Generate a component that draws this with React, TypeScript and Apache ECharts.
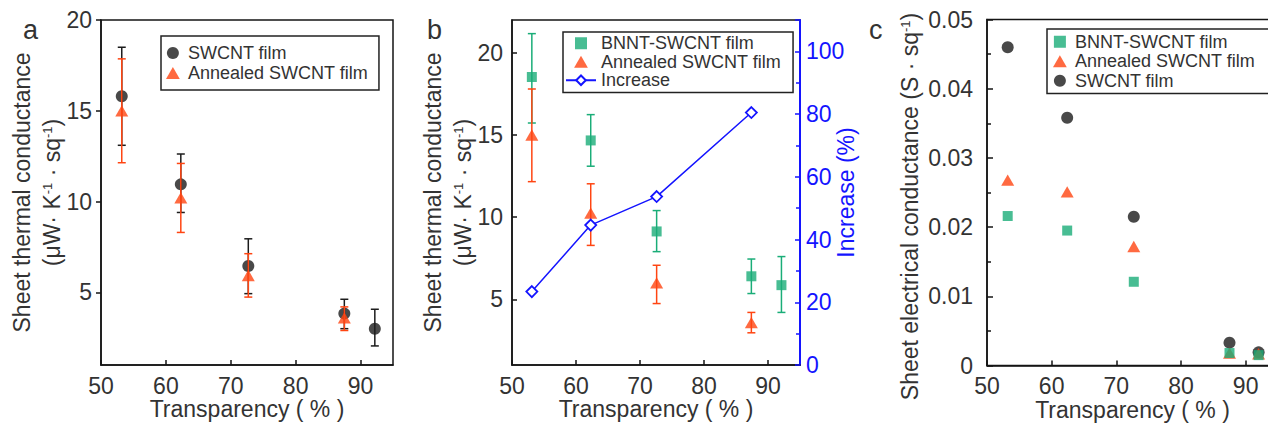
import React, { useEffect, useRef } from "react";
import * as echarts from "echarts";

// ---------- Data ----------
// Panel a
const transA = [53.2, 62.3, 72.7, 87.5, 92.2];
const swcntA = [15.8, 10.95, 6.45, 3.83, 3.0];
const swcntALo = [13.1, 9.4, 4.93, 3.0, 2.05];
const swcntAHi = [18.5, 12.62, 7.95, 4.62, 4.07];
const transAnnA = [53.2, 62.3, 72.7, 87.5];
const annealedA = [15.0, 10.2, 5.93, 3.6];
const annealedALo = [12.14, 8.3, 4.74, 2.9];
const annealedAHi = [17.86, 12.1, 7.13, 4.2];

// Panel b
const transB = [53.1, 62.3, 72.6, 87.4, 92.1];
const bnntB = [18.53, 14.67, 9.13, 6.4, 5.86];
const bnntBLo = [15.73, 13.1, 7.9, 5.35, 4.2];
const bnntBHi = [21.17, 16.24, 10.4, 7.45, 7.6];
const transAnnB = [53.1, 62.3, 72.6, 87.4];
const annealedB = [15.0, 10.24, 6.0, 3.58];
const annealedBLo = [12.16, 8.28, 4.74, 2.96];
const annealedBHi = [17.8, 12.03, 7.07, 4.2];
const increaseB = [23.4, 44.6, 53.7, 80.5];

// Panel c
const transC = [53.2, 62.4, 72.7, 87.5, 92.0];
const swcntC = [0.046, 0.0358, 0.0215, 0.0033, 0.0019];
const annealedC = [0.0268, 0.0251, 0.0172, 0.0018, 0.0017];
const bnntC = [0.0216, 0.0195, 0.0121, 0.0018, 0.0015];

// Tick labels
const thermalTicks = [5, 10, 15, 20];

// ---------- Styles ----------
const FONT = "'Liberation Sans', Arial, sans-serif";
const TXT = "#333333";
const AX = "#151515";
const BLACK = "#1c1c1c";
const RED = "#ff4512";
const GREEN = "#1aad78";
const BLUE = "#1414ff";
const TRI = "path://M5,0 L10,8.7 L0,8.7 Z";
const SQ = "path://M0,0 H10 V10 H0 Z";
const LBL = 23;
const NAME = 23;

const pairs = (xs: number[], ys: number[]) => xs.map((x, i) => [x, ys[i]]);

function errSeries(xs: number[], lo: number[], hi: number[], color: string, gi: number, z: number) {
  return {
    type: "custom",
    xAxisIndex: gi,
    yAxisIndex: gi === 2 ? 3 : gi,
    z,
    silent: true,
    data: xs.map((x, i) => [x, lo[i], hi[i]]),
    encode: { x: 0, y: [1, 2] },
    renderItem: (_p: any, api: any) => {
      const x = api.value(0);
      const a = api.coord([x, api.value(1)]);
      const b = api.coord([x, api.value(2)]);
      const w = 4;
      const st = { stroke: color, lineWidth: 1.5 };
      return {
        type: "group",
        children: [
          { type: "line", shape: { x1: a[0], y1: a[1], x2: b[0], y2: b[1] }, style: st },
          { type: "line", shape: { x1: a[0] - w, y1: a[1], x2: a[0] + w, y2: a[1] }, style: st },
          { type: "line", shape: { x1: b[0] - w, y1: b[1], x2: b[0] + w, y2: b[1] }, style: st },
        ],
      };
    },
  };
}

function xAxis(gi: number) {
  return {
    gridIndex: gi,
    type: "value",
    min: 50,
    max: 95,
    interval: 10,
    axisLine: { onZero: false, lineStyle: { color: AX, width: 1.5 } },
    axisTick: { inside: true, length: 5, lineStyle: { color: AX, width: 1.5 } },
    axisLabel: { fontSize: LBL, color: TXT, margin: 9, fontFamily: FONT, showMaxLabel: false },
    splitLine: { show: false },
    name: "Transparency ( % )",
    nameLocation: "middle",
    nameGap: 30,
    nameMoveOverlap: false,
    nameTextStyle: { fontSize: NAME, color: TXT, fontFamily: FONT, lineHeight: 28 },
  };
}

const supRich = {
  sup: { fontSize: 13, color: TXT, fontFamily: FONT, padding: [0, 0, 10, 0] },
};

function thermalY(gi: number, min: number, max: number, inside: boolean) {
  return {
    gridIndex: gi,
    type: "value",
    min,
    max,
    axisLine: { onZero: false, lineStyle: { color: AX, width: 1.5 } },
    axisTick: { inside, length: 5, customValues: thermalTicks, lineStyle: { color: AX, width: 1.5 } },
    axisLabel: { fontSize: LBL, color: TXT, margin: 9, fontFamily: FONT, customValues: thermalTicks },
    splitLine: { show: false },
    name: "Sheet thermal conductance\n(μW· K{sup|-1} · sq{sup|-1})",
    nameLocation: "middle",
    nameGap: 34,
    nameMoveOverlap: false,
    nameTextStyle: { fontSize: NAME, color: TXT, fontFamily: FONT, lineHeight: 30, rich: supRich },
  };
}

export default function App() {
  const ref = useRef<HTMLDivElement>(null);
  useEffect(() => {
    if (!ref.current) return;
    const chart = echarts.init(ref.current, undefined, { renderer: "svg" });
    const gridBase = {
      show: true,
      borderColor: AX,
      borderWidth: 1.5,
      backgroundColor: "transparent",
      containLabel: false,
      outerBoundsMode: "none",
    };
    const legendBase = {
      orient: "vertical",
      backgroundColor: "#fff",
      borderColor: "#222",
      borderWidth: 1.5,
      itemGap: 0,
      itemHeight: 12,
      selectedMode: false,
      symbolKeepAspect: true,
      textStyle: { fontSize: 18, color: TXT, fontFamily: FONT },
    };
    const option: any = {
      animation: false,
      backgroundColor: "#ffffff",
      textStyle: { fontFamily: FONT },
      grid: [
        { ...gridBase, left: 101, top: 20, width: 292, height: 345 },
        { ...gridBase, left: 512, top: 20, width: 288, height: 345 },
        { ...gridBase, left: 987, top: 19.5, width: 291, height: 346 },
      ],
      xAxis: [xAxis(0), xAxis(1), xAxis(2)],
      yAxis: [
        thermalY(0, 1, 20, false),
        thermalY(1, 1, 22, true),
        {
          gridIndex: 1,
          type: "value",
          position: "right",
          min: 0,
          max: 110,
          interval: 20,
          axisLine: { onZero: false, lineStyle: { color: BLUE, width: 2 } },
          axisTick: { inside: true, length: 5, lineStyle: { color: BLUE, width: 1.5 } },
          minorTick: { show: true, splitNumber: 2, length: 4, lineStyle: { color: BLUE, width: 1.5 } },
          axisLabel: { fontSize: LBL, color: BLUE, margin: 6, fontFamily: FONT, showMaxLabel: false },
          splitLine: { show: false },
          name: "Increase (%)",
          nameLocation: "middle",
          nameGap: 31,
          nameMoveOverlap: false,
          nameTextStyle: { fontSize: NAME, color: BLUE, fontFamily: FONT, lineHeight: 30 },
        },
        {
          gridIndex: 2,
          type: "value",
          min: 0,
          max: 0.05,
          interval: 0.01,
          axisLine: { onZero: false, lineStyle: { color: AX, width: 1.5 } },
          axisTick: { inside: true, length: 6, lineStyle: { color: AX, width: 1.5 } },
          minorTick: { show: true, splitNumber: 2, length: 4, lineStyle: { color: AX, width: 1.5 } },
          axisLabel: {
            fontSize: LBL,
            color: TXT,
            margin: 14,
            fontFamily: FONT,
            formatter: (v: number) => (Math.abs(v) < 1e-9 ? "0" : v.toFixed(2)),
          },
          splitLine: { show: false },
          name: "Sheet electrical conductance (S · sq{sup|-1})",
          nameLocation: "middle",
          nameGap: 62,
          nameMoveOverlap: false,
          nameTextStyle: { fontSize: NAME, color: TXT, fontFamily: FONT, lineHeight: 30, rich: supRich, padding: [0, 28, 0, 0] },
        },
      ],
      legend: [
        {
          ...legendBase,
          left: 161,
          top: 36,
          itemWidth: 20,
          padding: [7, 11, 7, 5],
          textStyle: { ...legendBase.textStyle, lineHeight: 20 },
          data: ["SWCNT film", "Annealed SWCNT film"],
        },
        {
          ...legendBase,
          left: 563,
          top: 32,
          itemWidth: 30,
          padding: [2, 12, 3, 2],
          textStyle: { ...legendBase.textStyle, lineHeight: 18.5 },
          data: ["BNNT-SWCNT film", "Annealed SWCNT film", "Increase"],
        },
        {
          ...legendBase,
          left: 1047,
          top: 29,
          itemWidth: 20,
          padding: [3, 20, 3, 6],
          textStyle: { ...legendBase.textStyle, lineHeight: 19.5 },
          data: ["BNNT-SWCNT film", "Annealed SWCNT film", "SWCNT film"],
        },
      ],
      graphic: [
        { type: "text", left: 23, top: 16, style: { text: "a", fontSize: 27, fill: TXT, fontFamily: FONT } },
        { type: "text", left: 427, top: 16, style: { text: "b", fontSize: 27, fill: TXT, fontFamily: FONT } },
        { type: "text", left: 869, top: 16, style: { text: "c", fontSize: 27, fill: TXT, fontFamily: FONT } },
      ],
      series: [
        // Panel a
        errSeries(transA, swcntALo, swcntAHi, BLACK, 0, 2),
        {
          name: "SWCNT film", type: "scatter", xAxisIndex: 0, yAxisIndex: 0, z: 3,
          symbol: "circle", symbolSize: 12, itemStyle: { color: BLACK },
          data: pairs(transA, swcntA),
        },
        errSeries(transAnnA, annealedALo, annealedAHi, RED, 0, 4),
        {
          name: "Annealed SWCNT film", type: "scatter", xAxisIndex: 0, yAxisIndex: 0, z: 5,
          symbol: TRI, symbolKeepAspect: true, symbolSize: 13, itemStyle: { color: RED },
          data: pairs(transAnnA, annealedA),
        },
        // Panel b
        errSeries(transB, bnntBLo, bnntBHi, GREEN, 1, 2),
        {
          name: "BNNT-SWCNT film", type: "scatter", xAxisIndex: 1, yAxisIndex: 1, z: 3,
          symbol: SQ, symbolKeepAspect: true, symbolSize: 10, itemStyle: { color: GREEN },
          data: pairs(transB, bnntB),
        },
        errSeries(transAnnB, annealedBLo, annealedBHi, RED, 1, 4),
        {
          name: "Annealed SWCNT film", type: "scatter", xAxisIndex: 1, yAxisIndex: 1, z: 5,
          symbol: TRI, symbolKeepAspect: true, symbolSize: 13, itemStyle: { color: RED },
          data: pairs(transAnnB, annealedB),
        },
        {
          name: "Increase", type: "line", xAxisIndex: 1, yAxisIndex: 2, z: 6,
          symbol: "diamond", symbolSize: 11, showAllSymbol: true,
          lineStyle: { color: BLUE, width: 1.5 },
          itemStyle: { color: "#ffffff", borderColor: BLUE, borderWidth: 1.8 },
          data: pairs(transAnnB, increaseB),
        },
        // Panel c
        {
          name: "SWCNT film", type: "scatter", xAxisIndex: 2, yAxisIndex: 3, z: 3,
          symbol: "circle", symbolSize: 12, itemStyle: { color: BLACK },
          data: pairs(transC, swcntC),
        },
        {
          name: "Annealed SWCNT film", type: "scatter", xAxisIndex: 2, yAxisIndex: 3, z: 4,
          symbol: TRI, symbolKeepAspect: true, symbolSize: 13, itemStyle: { color: RED },
          data: pairs(transC, annealedC),
        },
        {
          name: "BNNT-SWCNT film", type: "scatter", xAxisIndex: 2, yAxisIndex: 3, z: 5,
          symbol: SQ, symbolKeepAspect: true, symbolSize: 10, itemStyle: { color: GREEN },
          data: pairs(transC, bnntC),
        },
      ],
    };
    chart.setOption(option);
    return () => chart.dispose();
  }, []);
  return (
    <div
      ref={ref}
      style={{ position: "fixed", left: 0, top: 0, width: 1268, height: 423, background: "#fff" }}
    />
  );
}
